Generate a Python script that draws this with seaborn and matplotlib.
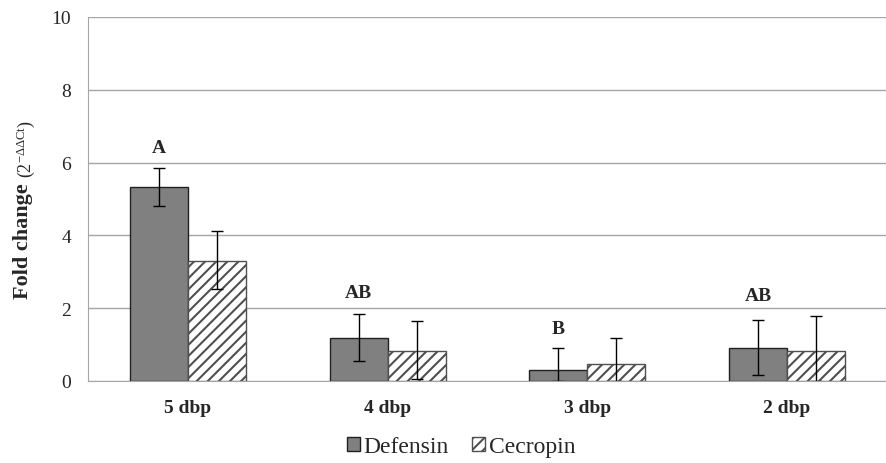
import matplotlib
matplotlib.use("Agg")
import matplotlib.pyplot as plt
import seaborn as sns
import pandas as pd
from matplotlib.patches import Patch

# values
days = ["5 dbp", "4 dbp", "3 dbp", "2 dbp"]
defensin = [5.34, 1.17, 0.31, 0.91]
cecropin = [3.31, 0.83, 0.47, 0.83]
defensin_low = [4.82, 0.54, 0.0, 0.17]
defensin_high = [5.85, 1.84, 0.90, 1.68]
cecropin_low = [2.54, 0.05, 0.0, 0.0]
cecropin_high = [4.12, 1.64, 1.19, 1.79]
letters = ["A", "AB", "B", "AB"]
letter_y = [6.18, 2.20, 1.20, 2.11]

df = pd.DataFrame({
    "day": days * 2,
    "gene": ["Defensin"] * 4 + ["Cecropin"] * 4,
    "fold": defensin + cecropin,
})

sns.set_style("white")
plt.rcParams["font.family"] = ["Liberation Serif", "DejaVu Serif"]
plt.rcParams["hatch.linewidth"] = 1.5

fig = plt.figure(figsize=(8.87, 4.64), dpi=100)
ax = fig.add_axes([88 / 887, 1 - 382 / 464, 799 / 887, 364 / 464])

sns.barplot(data=df, x="day", y="fold", hue="gene", order=days,
            hue_order=["Defensin", "Cecropin"],
            palette={"Defensin": "#808080", "Cecropin": "white"},
            width=0.58, edgecolor="#202020", linewidth=1.0,
            errorbar=None, legend=False, ax=ax)

# hatch the Cecropin bars, add error bars and letters
n = len(days)
for i, p in enumerate(ax.patches[:2 * n]):
    cx = p.get_x() + p.get_width() / 2
    if i < n:
        v, lo, hi = defensin[i], defensin_low[i], defensin_high[i]
        ax.text(cx, letter_y[i], letters[i], ha="center", va="bottom",
                fontsize=14, fontweight="bold")
    else:
        j = i - n
        v, lo, hi = cecropin[j], cecropin_low[j], cecropin_high[j]
        p.set_hatch("///")
        p.set_edgecolor("#505050")
    ax.errorbar(cx, v, yerr=[[v - lo], [hi - v]], fmt="none",
                ecolor="black", elinewidth=1.0, capsize=4, capthick=1.0)

ax.set_ylim(0, 10)
ax.set_xlim(-0.5, n - 0.5)
ax.set_yticks(range(0, 11, 2))
ax.yaxis.grid(True, color="#a6a6a6", linewidth=1.0)
ax.set_axisbelow(True)
for s in ["top", "right"]:
    ax.spines[s].set_visible(False)
ax.spines["left"].set_color("#a6a6a6")
ax.spines["bottom"].set_color("#a6a6a6")

ax.set_xticks([x - 0.5 for x in range(1, n)], minor=True)
ax.set_xticklabels(days, fontsize=14, fontweight="bold")
ax.tick_params(axis="x", which="major", length=0, pad=13)
ax.tick_params(axis="x", which="minor", length=5, color="#a6a6a6", direction="out")
ax.tick_params(axis="y", length=5, color="#a6a6a6", labelsize=14, pad=7)
ax.set_xlabel("")
ax.set_ylabel("")

# y label: bold words plus a smaller plain superscript part
fig.text(23 / 887, 1 - 241 / 464, "Fold change", rotation=90, ha="center",
         va="center", fontsize=16, fontweight="bold")
fig.text(26 / 887, 1 - 149 / 464, r"$\mathregular{(2^{-\Delta\Delta Ct})}$",
         rotation=90, ha="center", va="center", fontsize=13)

handles = [Patch(facecolor="#808080", edgecolor="#202020", label="Defensin"),
           Patch(facecolor="white", edgecolor="#505050", hatch="///", label="Cecropin")]
fig.legend(handles=handles, loc="center", bbox_to_anchor=(461 / 887, 1 - 448 / 464),
           ncol=2, frameon=False, fontsize=17, handlelength=0.55, handleheight=0.55,
           handletextpad=0.15, columnspacing=1.0)

fig.savefig("out.png", dpi=100)
